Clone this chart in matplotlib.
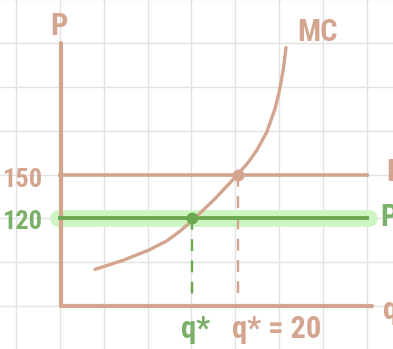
import matplotlib
matplotlib.use("Agg")
import matplotlib.pyplot as plt
from matplotlib import font_manager
from matplotlib.font_manager import FontProperties

# ---- data ----
mc_q = [4.00, 5.0, 7.2, 10.1, 12.2, 13.7, 15.1, 17.7, 20.3, 21.5,
        22.45, 23.6, 24.54, 25.03, 25.49, 25.80]
mc_p = [85.1, 87.0, 91.3, 98.2, 104.6, 111.3, 118.5, 133.5, 150.1, 158.5,
        166.5, 179.0, 195.0, 207.0, 222.0, 237.0]
price_high = 150
price_low = 120
q_low = 15.1
q_high = 20.3
price_labels = ["150", "120"]
q_labels = ["q*", "q* = 20"]
axis_labels = ["P", "q", "MC"]

BROWN = "#d3a58f"
GREEN = "#6aa84f"
GREEN_TXT = "#7bb068"
LIGHT = "#cdf5c2"
GRID = "#e2e2e2"

# pick a narrow font if one is installed, preferring a heavier weight
entries = font_manager.fontManager.ttflist
def wnum(w):
    if isinstance(w, int):
        return w
    return {"normal": 400, "regular": 400, "medium": 500, "semibold": 600,
            "demibold": 600, "bold": 700, "light": 300}.get(str(w).lower(), 400)

fp = None
for cand in ["Liberation Sans Narrow", "Roboto Condensed", "Open Sans Condensed"]:
    opts = [f for f in entries if f.name == cand and f.style == "normal"]
    if opts:
        best = min(opts, key=lambda f: abs(wnum(f.weight) - 600))
        fp = FontProperties(fname=best.fname)
        break
narrow = fp is not None
if fp is None:
    fp = FontProperties(family="DejaVu Sans")

fig = plt.figure(figsize=(3.93, 3.49), dpi=100)
ax = fig.add_axes([0, 0, 1, 1])
x0, x1 = -60 / 43.8 * 5, (393 - 60) / 43.8 * 5
y0, y1 = 60 - (349 - 306) / 43.8 * 30, 60 + 306 / 43.8 * 30
ax.set_xlim(x0, x1)
ax.set_ylim(y0, y1)
ax.axis("off")

# grid
for gx in range(-5, 40, 5):
    ax.axvline(gx, color=GRID, lw=1.0, zorder=0)
for gy in range(60, 280, 30):
    ax.axhline(gy, color=GRID, lw=1.0, zorder=0)

# axes lines
ax.plot([0.15, 0.15], [240, 60], color=BROWN, lw=3.0, solid_capstyle="round", zorder=3)
ax.plot([0.15, 35.6], [60, 60], color=BROWN, lw=3.0, solid_capstyle="round", zorder=3)

# price 150 line
ax.plot([0, 35], [price_high, price_high], color=BROWN, lw=2.6, zorder=3)

# price 120 highlight and line
ax.plot([-0.2, 35.3], [price_low, price_low], color=LIGHT, lw=12,
        solid_capstyle="round", zorder=2)
ax.plot([0, 35], [price_low, price_low], color=GREEN, lw=2.8, zorder=4)

# MC curve
ax.plot(mc_q, mc_p, color=BROWN, lw=2.4, solid_capstyle="round",
        solid_joinstyle="round", zorder=5)

# dashed verticals
ax.plot([q_low, q_low], [price_low, 64], color=GREEN, lw=1.7,
        dashes=(5, 4), zorder=3)
ax.plot([q_high, q_high], [price_high, 64], color=BROWN, lw=1.7,
        dashes=(5, 4), zorder=3)

# points
ax.plot([q_low], [price_low], "o", color=GREEN, ms=7.5, zorder=6)
ax.plot([q_high], [price_high], "o", color=BROWN, ms=7.5, zorder=6)

fs = 22 if narrow else 17
def t(x, y, s, c, ha="center", va="center", size=fs):
    ax.text(x, y, s, color=c, fontproperties=fp, fontsize=size, ha=ha, va=va, zorder=7)

small = fs - 3
t(-0.1, 251.5, axis_labels[0], BROWN)
t(27.1, 248, axis_labels[2], BROWN, ha="left")
t(-1.95, 146.6, price_labels[0], BROWN, ha="right", size=small)
t(-1.95, 117.8, price_labels[1], GREEN_TXT, ha="right", size=small)
t(37.3, 152, "P", BROWN, ha="left")
t(36.6, 121, "P", GREEN_TXT, ha="left")
t(36.9, 57, axis_labels[1], BROWN, ha="left")
t(13.8, 44, q_labels[0], GREEN_TXT, ha="left")
t(19.6, 44, q_labels[1], BROWN, ha="left")

fig.savefig("out.png", dpi=100)
